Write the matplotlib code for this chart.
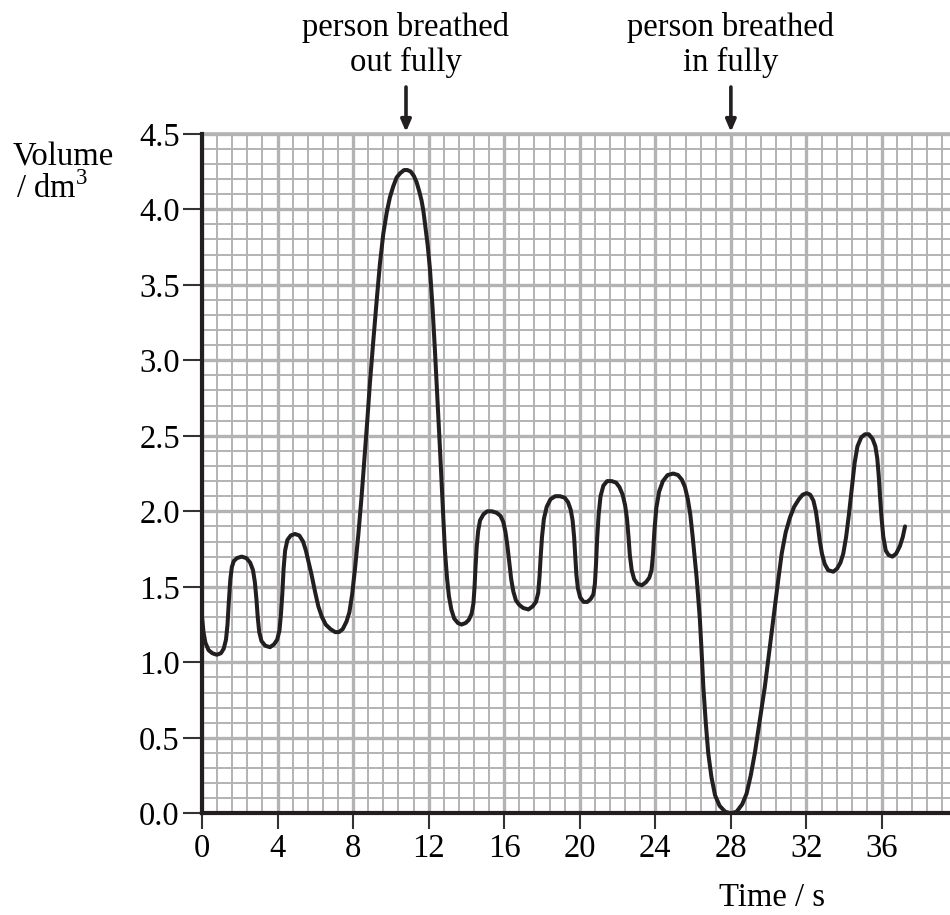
import numpy as np
import matplotlib
matplotlib.use("Agg")
import matplotlib.pyplot as plt
from matplotlib.ticker import MultipleLocator, FormatStrFormatter
import matplotlib.transforms as mtransforms

'''
DATA (read off the trace)
'''
time_s = [0.0, 0.08, 0.18, 0.35, 0.55, 0.78, 1.0, 1.15, 1.27, 1.35, 1.42, 1.5, 1.58, 1.68, 1.85,
          2.1, 2.35, 2.55, 2.7, 2.8, 2.88, 2.95, 3.03, 3.15, 3.35, 3.6, 3.82, 3.98, 4.1, 4.18,
          4.25, 4.32, 4.4, 4.52, 4.7, 4.92, 5.15, 5.35, 5.5, 5.65, 5.8, 5.98, 6.16, 6.35,
          6.55, 6.8, 7.05, 7.25, 7.45, 7.65, 7.8, 7.95, 8.1, 8.28, 8.45, 8.6, 8.75, 8.89,
          9.05, 9.25, 9.42, 9.6, 9.78, 9.95, 10.12, 10.3, 10.5, 10.7, 10.87, 11.05, 11.22,
          11.36, 11.5, 11.62, 11.72, 11.85, 11.95, 12.07, 12.2, 12.33, 12.46, 12.6, 12.73,
          12.86, 12.97, 13.07, 13.2, 13.35, 13.55, 13.74, 13.95, 14.12, 14.27, 14.37, 14.43,
          14.48, 14.54, 14.62, 14.72, 14.9, 15.1, 15.34, 15.6, 15.8, 15.95, 16.07, 16.17,
          16.27, 16.37, 16.48, 16.62, 16.8, 17.0, 17.28, 17.5, 17.68, 17.8, 17.87, 17.93,
          18.0, 18.1, 18.25, 18.45, 18.7, 18.95, 19.2, 19.38, 19.52, 19.62, 19.7, 19.76,
          19.82, 19.9, 20.02, 20.2, 20.4, 20.58, 20.72, 20.8, 20.86, 20.92, 21.0, 21.1,
          21.25, 21.45, 21.69, 21.92, 22.1, 22.27, 22.4, 22.5, 22.58, 22.65, 22.75, 22.88,
          23.05, 23.28, 23.5, 23.68, 23.8, 23.88, 23.95, 24.05, 24.2, 24.4, 24.65, 24.95,
          25.2, 25.4, 25.57, 25.72, 25.85, 25.97, 26.08, 26.18, 26.27, 26.36, 26.45, 26.54,
          26.67, 26.8, 26.97, 27.16, 27.4, 27.7, 28.0, 28.3, 28.6, 28.83, 29.05, 29.27,
          29.55, 29.8, 30.02, 30.24, 30.47, 30.69, 30.9, 31.13, 31.35, 31.6, 31.8, 32.01,
          32.2, 32.37, 32.5, 32.6, 32.7, 32.82, 32.97, 33.15, 33.42, 33.62, 33.8, 33.95,
          34.1, 34.25, 34.4, 34.55, 34.7, 34.9, 35.1, 35.3, 35.5, 35.65, 35.75, 35.83,
          35.9, 35.98, 36.07, 36.2, 36.35, 36.55, 36.75, 36.95, 37.1, 37.22]
volume_dm3 = [1.30, 1.20, 1.13, 1.08, 1.06, 1.05, 1.06, 1.09, 1.15, 1.25, 1.40, 1.55, 1.63, 1.67, 1.69,
              1.70, 1.69, 1.66, 1.61, 1.53, 1.42, 1.30, 1.20, 1.14, 1.11, 1.10, 1.12, 1.15, 1.21, 1.32,
              1.45, 1.62, 1.74, 1.81, 1.84, 1.85, 1.84, 1.80, 1.74, 1.66, 1.58, 1.47, 1.37, 1.30,
              1.25, 1.22, 1.20, 1.20, 1.22, 1.27, 1.33, 1.45, 1.62, 1.85, 2.10, 2.35, 2.60, 2.85,
              3.10, 3.40, 3.64, 3.84, 3.98, 4.08, 4.15, 4.21, 4.24, 4.26, 4.26, 4.25, 4.22,
              4.18, 4.12, 4.06, 3.99, 3.86, 3.76, 3.60, 3.36, 3.07, 2.75, 2.41, 2.07,
              1.74, 1.56, 1.44, 1.35, 1.29, 1.26, 1.25, 1.26, 1.28, 1.32, 1.39, 1.50,
              1.63, 1.76, 1.87, 1.94, 1.98, 2.00, 2.00, 1.99, 1.97, 1.93, 1.86, 1.77,
              1.66, 1.55, 1.47, 1.41, 1.38, 1.36, 1.35, 1.37, 1.40, 1.46, 1.57, 1.70,
              1.83, 1.95, 2.03, 2.08, 2.10, 2.10, 2.09, 2.06, 2.01, 1.94, 1.83, 1.70,
              1.58, 1.49, 1.43, 1.40, 1.40, 1.42, 1.45, 1.52, 1.65, 1.82, 1.98, 2.10,
              2.17, 2.20, 2.20, 2.19, 2.16, 2.11, 2.04, 1.95, 1.83, 1.71, 1.61, 1.55,
              1.52, 1.51, 1.53, 1.56, 1.61, 1.72, 1.87, 2.02, 2.13, 2.20, 2.24, 2.25,
              2.24, 2.21, 2.16, 2.08, 1.98, 1.84, 1.70, 1.57, 1.43, 1.28, 1.07, 0.84,
              0.60, 0.40, 0.24, 0.12, 0.05, 0.01, 0.00, 0.01, 0.06, 0.13, 0.25, 0.40,
              0.63, 0.84, 1.06, 1.28, 1.51, 1.72, 1.86, 1.96, 2.03, 2.08, 2.11, 2.12,
              2.11, 2.07, 2.00, 1.91, 1.81, 1.72, 1.65, 1.61, 1.60, 1.62, 1.66, 1.72,
              1.83, 1.98, 2.15, 2.32, 2.43, 2.49, 2.51, 2.51, 2.48, 2.43, 2.35, 2.23,
              2.09, 1.95, 1.83, 1.74, 1.71, 1.70, 1.72, 1.77, 1.83, 1.90]

x_ticks = [0, 4, 8, 12, 16, 20, 24, 28, 32, 36]
y_ticks = [0.0, 0.5, 1.0, 1.5, 2.0, 2.5, 3.0, 3.5, 4.0, 4.5]

notes = ["person breathed\nout fully", "person breathed\nin fully"]
note_times = [10.8, 28.0]

'''
PLOT
'''
plt.rcParams['font.family'] = ['Liberation Serif', 'DejaVu Serif']
plt.rcParams['mathtext.fontset'] = 'custom'
plt.rcParams['mathtext.rm'] = 'Liberation Serif'
FS = 23.5
GRID = "#b3b3b3"
INK = "#231f20"

fig = plt.figure(figsize=(9.5, 9.15), dpi=100)
ax = fig.add_axes([202 / 950, (915 - 813.3) / 915, 1 - 202 / 950, (813.3 - 133.8) / 915])

ax.set_xlim(0, 39.6)
ax.set_ylim(0, 4.5)

# graph paper grid
ax.xaxis.set_minor_locator(MultipleLocator(0.8))
ax.yaxis.set_minor_locator(MultipleLocator(0.1))
ax.set_xticks(x_ticks)
ax.set_yticks(y_ticks)
ax.yaxis.set_major_formatter(FormatStrFormatter("%.1f"))
ax.grid(which="minor", color=GRID, linewidth=1.4)
ax.grid(which="major", color=GRID, linewidth=2.4)
ax.set_axisbelow(True)
ax.axhline(4.5, color=GRID, linewidth=2.6, clip_on=False, zorder=1)

ax.tick_params(which="minor", length=0)
ax.tick_params(axis="x", which="major", length=11.5, width=1.5, color="#333333",
               labelsize=FS, pad=3)
ax.tick_params(axis="y", which="major", length=14, width=1.5, color="#333333",
               labelsize=FS, pad=2)

for side in ["top", "right"]:
    ax.spines[side].set_visible(False)
for side in ["left", "bottom"]:
    ax.spines[side].set_linewidth(3)
    ax.spines[side].set_color(INK)
    ax.spines[side].set_zorder(5)

ax.plot(time_s, volume_dm3, color=INK, linewidth=2.9, solid_joinstyle="round",
        solid_capstyle="round", zorder=4, clip_on=False)

# axis labels
fig.text(63 / 950, 1 - 157 / 915, "Volume", fontsize=FS, ha="center", va="center")
fig.text(52 / 950, 1 - 189 / 915, r"/ dm$^\mathrm{3}$", fontsize=FS, ha="center", va="center")
fig.text(772 / 950, 1 - 898 / 915, "Time / s", fontsize=FS, ha="center", va="center")

# annotations with arrows
trans = mtransforms.blended_transform_factory(ax.transData, fig.transFigure)
for label, t in zip(notes, note_times):
    ax.text(t, 1 - 45 / 915, label, transform=trans, fontsize=FS, ha="center",
            va="center", linespacing=1.15)
    ax.annotate("", xy=(t, 1 - 132 / 915), xycoords=trans,
                xytext=(t, 1 - 87 / 915), textcoords=trans,
                arrowprops=dict(arrowstyle="-|>,head_length=0.7,head_width=0.3",
                                color=INK, linewidth=2.6, shrinkA=0, shrinkB=0))

fig.savefig("out.png", dpi=100)
